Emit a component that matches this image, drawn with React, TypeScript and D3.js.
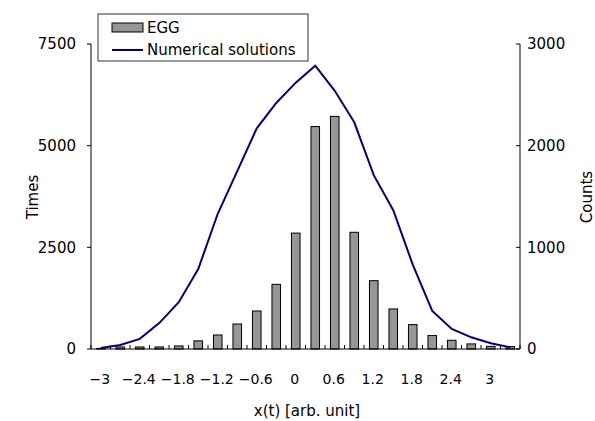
import React from "react";
import * as d3 from "d3";

const categories = [-3, -2.7, -2.4, -2.1, -1.8, -1.5, -1.2, -0.9, -0.6, -0.3, 0, 0.3, 0.6, 0.9, 1.2, 1.5, 1.8, 2.1, 2.4, 2.7, 3, 3.3];
const eggTimes = [15, 50, 50, 50, 75, 200, 345, 615, 935, 1590, 2850, 5470, 5720, 2870, 1680, 985, 600, 330, 215, 125, 65, 60];
const numericalCounts = [10, 40, 100, 255, 460, 787, 1330, 1750, 2170, 2420, 2620, 2787, 2540, 2230, 1710, 1365, 830, 375, 197, 115, 56, 17];
const xTickLabels = [-3, -2.4, -1.8, -1.2, -0.6, 0, 0.6, 1.2, 1.8, 2.4, 3];
const leftTicks = [0, 2500, 5000, 7500];
const rightTicks = [0, 1000, 2000, 3000];

const W = 595, H = 421;
const L = 91, R = 520, T = 44, B = 349;
const FONT = "'DejaVu Sans', sans-serif";
const FS = 15;

function fmt(v: number) {
  const s = String(Math.abs(v));
  return v < 0 ? "\u2212" + s : s;
}

export default function App() {
  const keys = categories.map(String);
  const x = d3.scaleBand<string>().domain(keys).range([L, R]).padding(0);
  const bw = x.bandwidth();
  const yL = d3.scaleLinear().domain([0, 7500]).range([B, T]);
  const yR = d3.scaleLinear().domain([0, 3000]).range([B, T]);
  const barW = bw * 0.44;
  const line = d3
    .line<number>()
    .x((_, i) => (x(keys[i]) as number) + bw / 2)
    .y((d) => yR(d));

  const boundaries = d3.range(keys.length + 1).map((i) => L + i * bw);

  return (
    <svg width={W} height={H} style={{ position: "absolute", left: 0, top: 0, background: "#fff" }} fontFamily={FONT}>
      <rect x={0} y={0} width={W} height={H} fill="#fff" />
      {/* bars */}
      {eggTimes.map((v, i) => {
        const cx = (x(keys[i]) as number) + bw / 2;
        return (
          <rect
            key={i}
            x={cx - barW / 2}
            y={yL(v)}
            width={barW}
            height={B - yL(v)}
            fill="#969696"
            stroke="#000"
            strokeWidth={1}
          />
        );
      })}
      {/* line */}
      <path d={line(numericalCounts) || ""} fill="none" stroke="#000080" strokeWidth={2} />
      {/* axes */}
      <line x1={L} y1={T} x2={L} y2={B} stroke="#000" strokeWidth={1} />
      <line x1={R} y1={T} x2={R} y2={B} stroke="#000" strokeWidth={1} />
      <line x1={L} y1={B} x2={R} y2={B} stroke="#000" strokeWidth={1} />
      {boundaries.map((bx, i) => (
        <line key={"bt" + i} x1={bx} x2={bx} y1={B - 4} y2={B} stroke="#000" strokeWidth={1} />
      ))}
      {leftTicks.map((t) => (
        <g key={"lt" + t}>
          <line x1={L - 4} x2={L} y1={yL(t)} y2={yL(t)} stroke="#000" />
          <text x={76} y={yL(t)} dy="0.35em" textAnchor="end" fontSize={FS}>
            {t}
          </text>
        </g>
      ))}
      {rightTicks.map((t) => (
        <g key={"rt" + t}>
          <line x1={R - 4} x2={R} y1={yR(t)} y2={yR(t)} stroke="#000" />
          <text x={527} y={yR(t)} dy="0.35em" textAnchor="start" fontSize={FS}>
            {t}
          </text>
        </g>
      ))}
      {xTickLabels.map((t) => {
        const k = String(t);
        const cx = (x(k) as number) + bw / 2;
        return (
          <text key={"xt" + t} x={cx - 1} y={379} dy="0.35em" textAnchor="middle" fontSize={14}>
            {fmt(t)}
          </text>
        );
      })}
      <text x={307} y={411} dy="0.35em" textAnchor="middle" fontSize={FS}>
        x(t) [arb. unit]
      </text>
      <text transform={`translate(33,197) rotate(-90)`} textAnchor="middle" dy="0.35em" fontSize={FS}>
        Times
      </text>
      <text transform={`translate(587,197) rotate(-90)`} textAnchor="middle" dy="0.35em" fontSize={FS}>
        Counts
      </text>
      {/* legend */}
      <rect x={98} y={14} width={210} height={47} fill="#fff" stroke="#333" strokeWidth={1} />
      <rect x={112} y={23} width={31} height={9} fill="#969696" stroke="#000" strokeWidth={1} />
      <text x={147} y={28} dy="0.35em" fontSize={FS}>
        EGG
      </text>
      <line x1={112} x2={143} y1={50} y2={50} stroke="#000080" strokeWidth={2} />
      <text x={147} y={50} dy="0.35em" fontSize={FS}>
        Numerical solutions
      </text>
    </svg>
  );
}
